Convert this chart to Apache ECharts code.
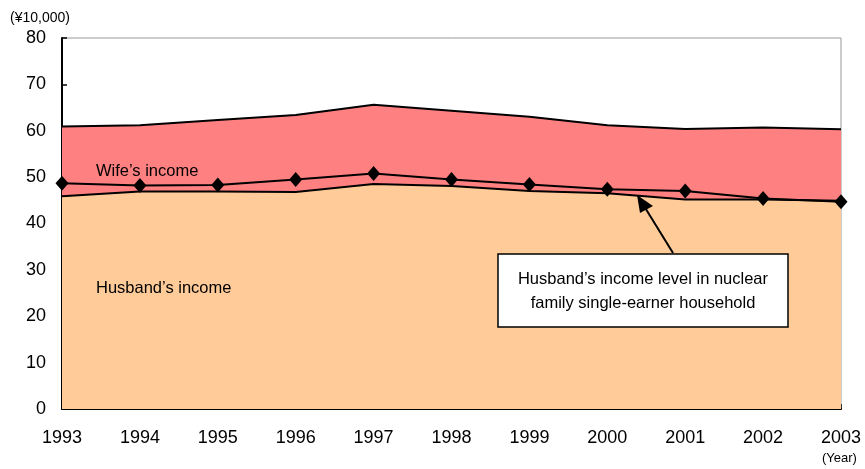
<!DOCTYPE html>
<html><head><meta charset="utf-8">
<script src="https://cdn.jsdelivr.net/npm/echarts@6/dist/echarts.min.js"></script>
<style>html,body{margin:0;padding:0;background:#fff}#c{width:865px;height:469px}</style>
</head><body><div id="c"></div>
<script>
const years = ['1993','1994','1995','1996','1997','1998','1999','2000','2001','2002','2003'];
const husbandIncome = [45.9, 46.9, 46.9, 46.8, 48.5, 48.1, 47.0, 46.5, 45.2, 45.2, 44.9];
const wifeIncome = [15.0, 14.3, 15.4, 16.6, 17.1, 16.2, 16.0, 14.7, 15.2, 15.5, 15.4];
const singleEarnerHusband = [48.7, 48.2, 48.3, 49.5, 50.8, 49.5, 48.4, 47.4, 47.0, 45.4, 44.7];
const yTicks = [0, 10, 20, 30, 40, 50, 60, 70, 80];

const font = 'Liberation Sans, Arial, sans-serif';
const chart = echarts.init(document.getElementById('c'), null, {renderer: 'canvas'});
chart.setOption({
  animation: false,
  backgroundColor: '#fff',
  grid: {left: 62, top: 38, right: 24, bottom: 60, show: true, borderColor: '#999', borderWidth: 1, backgroundColor: 'transparent'},
  xAxis: {
    type: 'category', data: years, boundaryGap: false,
    axisLine: {lineStyle: {color: '#000', width: 2}},
    axisTick: {inside: true, length: 5, lineStyle: {color: '#000', width: 1.5}},
    axisLabel: {color: '#000', fontSize: 18, fontFamily: font, margin: 20, interval: 0},
    splitLine: {show: false}
  },
  yAxis: {
    type: 'value', min: yTicks[0], max: yTicks[yTicks.length - 1], interval: 10,
    axisLine: {show: true, lineStyle: {color: '#000', width: 2}},
    axisTick: {show: true, inside: true, length: 5, lineStyle: {color: '#000', width: 1.5}},
    axisLabel: {color: '#000', fontSize: 18, fontFamily: font, margin: 16},
    splitLine: {show: false}
  },
  series: [
    {name: "Husband's income", type: 'line', stack: 'total', data: husbandIncome,
     symbol: 'none', lineStyle: {color: '#000', width: 2},
     areaStyle: {color: '#FFCC99', opacity: 1}, z: 2},
    {name: "Wife's income", type: 'line', stack: 'total', data: wifeIncome,
     symbol: 'none', lineStyle: {color: '#000', width: 2},
     areaStyle: {color: '#FF8080', opacity: 1}, z: 2},
    {name: 'Single-earner husband', type: 'line', data: singleEarnerHusband,
     symbol: 'diamond', symbolSize: [13, 15], itemStyle: {color: '#000'},
     lineStyle: {color: '#000', width: 2}, z: 5}
  ],
  graphic: [
    {type: 'text', left: 10, top: 11, style: {text: '(¥10,000)', fontSize: 14, fontFamily: font, fill: '#000'}},
    {type: 'text', left: 822, top: 452, style: {text: '(Year)', fontSize: 13, fontFamily: font, fill: '#000'}},
    {type: 'text', left: 96, top: 163, z: 10, style: {text: "Wife’s income", fontSize: 16.5, fontFamily: font, fill: '#000'}},
    {type: 'text', left: 96, top: 280, z: 10, style: {text: "Husband’s income", fontSize: 16.5, fontFamily: font, fill: '#000'}},
    {type: 'line', z: 10, shape: {x1: 673, y1: 253, x2: 644, y2: 206}, style: {stroke: '#000', lineWidth: 2}},
    {type: 'polygon', z: 10, shape: {points: [[637, 195], [653, 206], [640, 213]]}, style: {fill: '#000'}},
    {type: 'rect', z: 10, shape: {x: 498, y: 254, width: 290, height: 73}, style: {fill: '#fff', stroke: '#000', lineWidth: 1.5}},
    {type: 'text', z: 11, x: 643, y: 291, style: {text: 'Husband’s income level in nuclear\nfamily single-earner household', fontSize: 16.5, lineHeight: 24, fontFamily: font, fill: '#000', align: 'center', verticalAlign: 'middle'}}
  ]
});
</script></body></html>
